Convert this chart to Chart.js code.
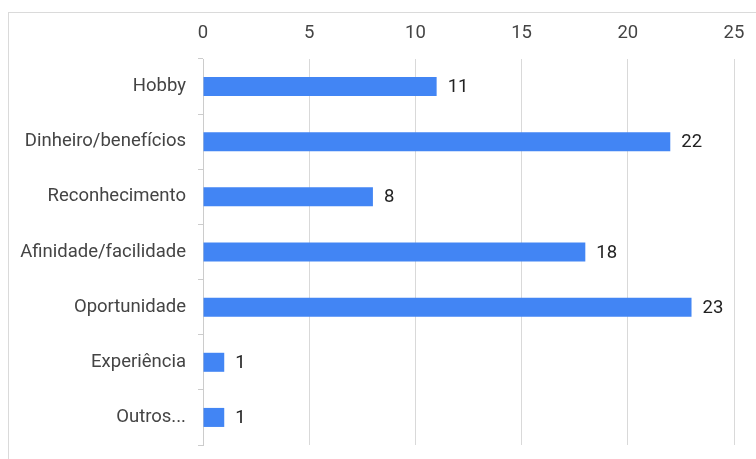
<!DOCTYPE html>
<html>
<head>
<meta charset="utf-8">
<script src="https://cdn.jsdelivr.net/npm/chart.js@4/dist/chart.umd.min.js"></script>
<style>
  html, body { margin:0; padding:0; background:#fff; overflow:hidden; }
  #frame { position:absolute; left:8px; top:12px; width:800px; height:500px; border:1px solid #dadada; box-sizing:border-box; }
  #wrap { position:absolute; left:0; top:0; width:756px; height:459px; }
</style>
</head>
<body>
<div id="frame"></div>
<div id="wrap"><canvas id="c" width="756" height="459"></canvas></div>
<script>
const categories = ["Hobby", "Dinheiro/benefícios", "Reconhecimento", "Afinidade/facilidade", "Oportunidade", "Experiência", "Outros..."];
const values = [11, 22, 8, 18, 23, 1, 1];
const xTicks = [0, 5, 10, 15, 20, 25];

const FONT = "Roboto, 'Liberation Sans', Arial, sans-serif";
const FSIZE = 18.5;

const valueLabels = {
  id: 'valueLabels',
  afterDatasetsDraw(chart) {
    const ctx = chart.ctx;
    const meta = chart.getDatasetMeta(0);
    ctx.save();
    ctx.font = FSIZE + "px " + FONT;
    ctx.fillStyle = "#222";
    ctx.textAlign = "left";
    ctx.textBaseline = "middle";
    meta.data.forEach((bar, i) => {
      ctx.fillText(String(values[i]), bar.x + 11, bar.y + 1);
    });
    ctx.restore();
  }
};

new Chart(document.getElementById('c'), {
  type: 'bar',
  data: {
    labels: categories,
    datasets: [{
      data: values,
      backgroundColor: '#4285f4',
      borderWidth: 0,
      barPercentage: 0.345,
      categoryPercentage: 1.0
    }]
  },
  options: {
    indexAxis: 'y',
    responsive: false,
    animation: false,
    devicePixelRatio: 1,
    layout: { padding: { left: 0, right: 22, top: 0, bottom: 14 } },
    plugins: { legend: { display: false }, tooltip: { enabled: false } },
    scales: {
      x: {
        position: 'top',
        min: 0, max: 25,
        afterBuildTicks(scale) { scale.ticks = xTicks.map(v => ({ value: v })); },
        afterFit(scale) { scale.height = 59; scale.paddingLeft = 0; scale.paddingRight = 0; },
        grid: { color: '#d9d9d9', drawTicks: false, lineWidth: 1 },
        border: { display: false },
        ticks: { color: '#444', font: { family: FONT, size: FSIZE }, padding: 15 }
      },
      y: {
        afterFit(scale) { scale.width = 203; scale.paddingTop = 0; scale.paddingBottom = 0; },
        grid: { drawOnChartArea: false, drawTicks: true, tickLength: 5, color: '#cccccc', offset: true },
        border: { display: true, color: '#cccccc' },
        ticks: { color: '#444', font: { family: FONT, size: FSIZE }, padding: 12 }
      }
    }
  },
  plugins: [valueLabels]
});
</script>
</body>
</html>
